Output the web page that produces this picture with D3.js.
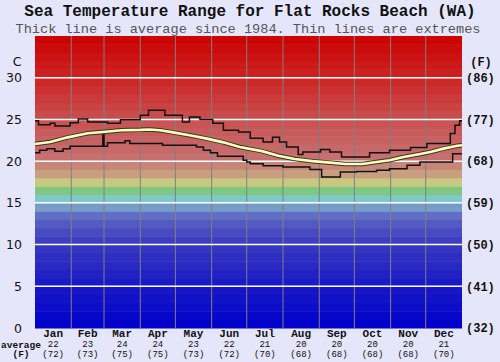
<!DOCTYPE html>
<html>
<head>
<meta charset="utf-8">
<script src="https://cdn.jsdelivr.net/npm/d3@7"></script>
<style>
  body { margin: 0; background: #e6e6fa; }
  svg { display: block; }
</style>
</head>
<body>
<div id="chart"></div>
<script>
// month names and days per month
const months = ["Jan", "Feb", "Mar", "Apr", "May", "Jun", "Jul", "Aug", "Sep", "Oct", "Nov", "Dec"];
const monthDays = [31, 28, 31, 30, 31, 30, 31, 31, 30, 31, 30, 31];
const monthAvgC = [22, 23, 24, 24, 23, 22, 21, 20, 20, 20, 20, 21];
const monthAvgF = [72, 73, 75, 75, 73, 72, 70, 68, 68, 68, 68, 70];

// left (C) and right (F) tick labels
const cTicks = [0, 5, 10, 15, 20, 25, 30];
const fLabels = ["(32)", "(41)", "(50)", "(59)", "(68)", "(77)", "(86)"];

// average since 1984: [day of year, deg C]
const avgLine = [
  [0, 22.05], [13, 22.3], [28, 22.85], [45, 23.35], [58, 23.5], [74, 23.7],
  [90, 23.75], [98, 23.8], [107, 23.7], [118, 23.45], [132, 23.1], [147, 22.7],
  [161, 22.25], [175, 21.7], [194, 21.2], [208, 20.65], [222, 20.25], [237, 20.0],
  [250, 19.85], [265, 19.65], [280, 19.65], [292, 19.9], [303, 20.1], [315, 20.5],
  [327, 20.8], [338, 21.1], [349, 21.5], [361, 21.85], [365, 21.9]
];

// highest recorded, step changes: [day of year, deg C]
const maxSteps = [
  [0, 24.85], [3, 24.35], [13, 24.55], [17, 24.2], [30, 24.6], [37, 25.05],
  [45, 24.7], [62, 24.55], [73, 24.95], [90, 25.5], [97, 26.1], [111, 25.5],
  [126, 24.7], [132, 25.3], [141, 25.0], [152, 24.55], [161, 23.7], [174, 23.5],
  [184, 22.75], [195, 22.3], [203, 22.85], [209, 22.3], [215, 21.7], [225, 20.8],
  [229, 21.1], [244, 21.4], [252, 21.1], [262, 20.5], [286, 21.0], [303, 21.3],
  [321, 21.65], [335, 22.1], [355, 23.3], [359, 24.3], [363, 24.85], [365, 24.85]
];

// lowest recorded, step changes: [day of year, deg C]
const minSteps = [
  [0, 21.0], [4, 21.3], [10, 21.5], [17, 21.2], [24, 21.5], [30, 21.8],
  [58, 23.6], [59, 21.8], [62, 22.2], [77, 22.45], [81, 22.1], [109, 21.9],
  [138, 21.7], [144, 21.3], [150, 21.0], [156, 20.6], [178, 20.1], [181, 19.9],
  [184, 19.7], [195, 19.45], [212, 19.3], [235, 19.0], [245, 18.1], [261, 18.7],
  [275, 18.75], [292, 18.9], [303, 19.1], [318, 19.5], [329, 19.9], [357, 20.9],
  [365, 20.9]
];

const W = 500, H = 362;
const plotL = 35, plotR = 462, plotT = 36, plotB = 328;

const svg = d3.select("#chart").append("svg")
  .attr("width", W).attr("height", H);

const x = d3.scaleLinear().domain([0, 365]).range([plotL, plotR]);
const y = d3.scaleLinear().domain([0, 35]).range([plotB, plotT]);

// background colour bands, one per degree
const bandColor = d3.scaleLinear()
  .domain([0, 5, 10, 12, 14, 14.5, 15.5, 16.5, 17.5, 18.5, 19.5, 20.5, 25, 30, 35])
  .range(["#0000cc", "#1818c6", "#3838c0", "#4c50c0", "#6878c6", "#789cc8", "#80c8cc",
          "#80c880", "#c8c880", "#c8a080", "#c88678", "#c87070", "#c85050", "#cc2424", "#cc0000"]);

const bands = d3.range(0, 35);
svg.append("g").selectAll("rect")
  .data(bands)
  .enter().append("rect")
  .attr("x", plotL)
  .attr("width", plotR - plotL)
  .attr("y", d => y(d + 1))
  .attr("height", d => y(d) - y(d + 1) + 0.5)
  .attr("fill", d => bandColor(d + 0.5));

// month gridlines
const monthStart = [0];
monthDays.forEach((d, i) => monthStart.push(monthStart[i] + d));

svg.append("g").selectAll("line")
  .data(monthStart.slice(1, 12))
  .enter().append("line")
  .attr("x1", d => x(d)).attr("x2", d => x(d))
  .attr("y1", plotT).attr("y2", plotB)
  .attr("stroke", "#808080")
  .attr("stroke-width", 1);

// horizontal white gridlines
svg.append("g").selectAll("line")
  .data(cTicks.slice(1))
  .enter().append("line")
  .attr("x1", plotL).attr("x2", plotR)
  .attr("y1", d => y(d)).attr("y2", d => y(d))
  .attr("stroke", "#ffffff")
  .attr("stroke-width", 1.5);

// extremes
const stepLine = d3.line()
  .x(d => x(d[0]))
  .y(d => y(d[1]))
  .curve(d3.curveStepAfter);

[maxSteps, minSteps].forEach(s => {
  svg.append("path")
    .attr("d", stepLine(s))
    .attr("fill", "none")
    .attr("stroke", "#111")
    .attr("stroke-width", 1.5);
});

// average, thick pale line with dark edge
const avgPath = d3.line()
  .x(d => x(d[0]))
  .y(d => y(d[1]));

svg.append("path")
  .attr("d", avgPath(avgLine))
  .attr("fill", "none")
  .attr("stroke", "#333")
  .attr("stroke-width", 4.5);
svg.append("path")
  .attr("d", avgPath(avgLine))
  .attr("fill", "none")
  .attr("stroke", "#ffffb4")
  .attr("stroke-width", 2.6);

// left axis (C)
const yAxisL = svg.append("g")
  .attr("transform", `translate(${plotL - 13},0)`)
  .call(d3.axisLeft(y).tickValues(cTicks).tickSize(0).tickPadding(0));
yAxisL.select(".domain").remove();
yAxisL.selectAll("text")
  .attr("font-family", "'DejaVu Sans', Verdana, sans-serif")
  .attr("font-size", 12.5)
  .attr("fill", "#111");

svg.append("text")
  .attr("x", 17).attr("y", 62)
  .attr("dy", "0.35em")
  .attr("text-anchor", "middle")
  .attr("font-family", "'DejaVu Sans', Verdana, sans-serif")
  .attr("font-size", 12.5)
  .attr("fill", "#111")
  .text("C");

// right axis (F)
const mono = "'Liberation Mono', 'Courier New', monospace";
const yAxisR = svg.append("g")
  .attr("transform", `translate(${plotR + 4},0)`)
  .call(d3.axisRight(y).tickValues(cTicks).tickSize(0).tickPadding(0)
    .tickFormat((d, i) => fLabels[i]));
yAxisR.select(".domain").remove();
yAxisR.selectAll("text")
  .attr("font-family", mono)
  .attr("font-weight", "bold")
  .attr("font-size", 12)
  .attr("fill", "#111");

svg.append("text")
  .attr("x", 481).attr("y", 62)
  .attr("dy", "0.35em")
  .attr("text-anchor", "middle")
  .attr("font-family", mono)
  .attr("font-weight", "bold")
  .attr("font-size", 12)
  .attr("fill", "#111")
  .text("(F)");

// bottom month labels
const mg = svg.append("g").selectAll("g")
  .data(months)
  .enter().append("g")
  .attr("transform", (d, i) => `translate(${x(monthStart[i] + monthDays[i] / 2)},0)`);

mg.append("text")
  .attr("y", 336.5)
  .attr("text-anchor", "middle")
  .attr("font-family", mono)
  .attr("font-weight", "bold")
  .attr("font-size", 11)
  .attr("fill", "#111")
  .text(d => d);

mg.append("text")
  .attr("y", 347)
  .attr("text-anchor", "middle")
  .attr("font-family", mono)
  .attr("font-size", 9)
  .attr("fill", "#111")
  .text((d, i) => monthAvgC[i]);

mg.append("text")
  .attr("y", 357)
  .attr("text-anchor", "middle")
  .attr("font-family", mono)
  .attr("font-size", 9)
  .attr("fill", "#111")
  .text((d, i) => `(${monthAvgF[i]})`);

svg.append("text")
  .attr("x", 21).attr("y", 347.5)
  .attr("text-anchor", "middle")
  .attr("font-family", mono)
  .attr("font-weight", "bold")
  .attr("font-size", 9.5)
  .attr("fill", "#111")
  .text("average");

svg.append("text")
  .attr("x", 21).attr("y", 357)
  .attr("text-anchor", "middle")
  .attr("font-family", mono)
  .attr("font-weight", "bold")
  .attr("font-size", 9.5)
  .attr("fill", "#111")
  .text("(F)");

// titles
svg.append("text")
  .attr("x", 250).attr("y", 16)
  .attr("text-anchor", "middle")
  .attr("font-family", mono)
  .attr("font-weight", "bold")
  .attr("font-size", 16)
  .attr("fill", "#111")
  .text("Sea Temperature Range for Flat Rocks Beach (WA)");

svg.append("text")
  .attr("x", 248).attr("y", 32.5)
  .attr("text-anchor", "middle")
  .attr("font-family", mono)
  .attr("font-size", 13.6)
  .attr("fill", "#555")
  .text("Thick line is average since 1984. Thin lines are extremes");
</script>
</body>
</html>
